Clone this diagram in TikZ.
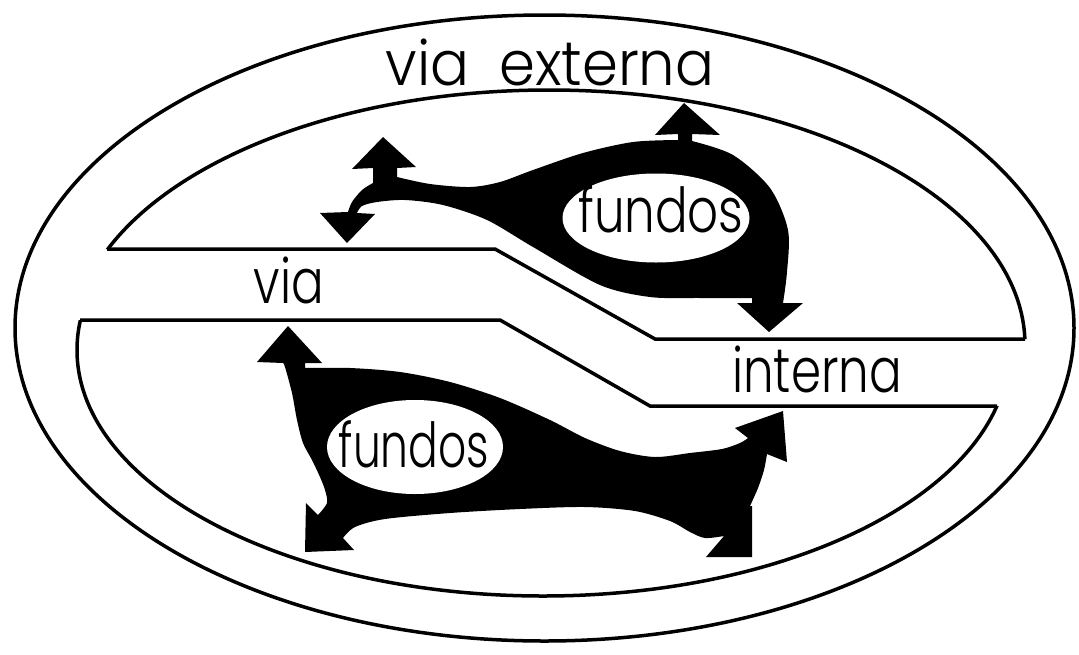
\documentclass[tikz,border=0pt]{standalone}
\usepackage{fontspec}
\newfontfamily\narrowface{Poppins}[UprightFont=* Light, FakeStretch=0.78]
\newfontfamily\wideface{Poppins}[UprightFont=* Light, FakeStretch=0.93]
\usetikzlibrary{shapes.geometric}
\begin{document}
\begin{tikzpicture}[x=1pt,y=-1pt,
  ring/.style={line width=3.5pt},
  blob/.style={fill=black},
  hole/.style={ellipse, fill=white, inner sep=0pt},
  lbl/.style={font=\narrowface\fontsize{62}{62}\selectfont, inner sep=0pt, anchor=base},
  title/.style={lbl, font=\wideface\fontsize{62}{62}\selectfont}]
\useasboundingbox (0,0) rectangle (1079,654);

% outer ring
\draw[ring] (544.5,328) ellipse[x radius=529.5, y radius=313];

% inner ring, upper part (above the band)
\begin{scope}
  \clip (0,0) -- (1079,0) -- (1079,339) -- (655,339) -- (495,249) -- (0,249) -- cycle;
  \draw[ring] (549,345) ellipse[x radius=476, y radius=255];
\end{scope}
% inner ring, lower part (below the band)
\begin{scope}
  \clip (0,654) -- (1079,654) -- (1079,406) -- (650,406) -- (500,320) -- (0,320) -- cycle;
  \draw[ring] (543,350) ellipse[x radius=466, y radius=246];
\end{scope}

% the band of the internal way
\draw[ring] (107,249) -- (495,249) -- (655,339) -- (1025,339);
\draw[ring] (80,320) -- (500,320) -- (650,406) -- (997,406);

% upper flow of funds
\fill[blob] (373,168) -- (352,169) -- (383,137) -- (416,167) -- (397,168) -- (397,177)
 -- plot[smooth] coordinates {(397,177) (430,184) (470,187) (500,182) (533,170) (583,153) (633,142) (678,140)}
 -- (678,134) -- (655,135) -- (684,103) -- (720,135) -- (692,134) -- (692,141)
 -- plot[smooth] coordinates {(692,141) (733,155) (770,188) (788,230) (787,272) (783,303)}
 -- (803,303) -- (769,332) -- (737,303) -- (752,303) -- (752,298)
 -- plot[smooth] coordinates {(752,298) (700,298) (650,297) (600,285) (533,247) (487,220) (443,205) (405,200) (377,202) (362,206) (357,213)}
 -- (375,214) -- (347,243) -- (320,213) -- (348,212)
 -- plot[smooth] coordinates {(348,212) (352,202) (362,190) (373,183)} -- cycle;

% lower flow of funds
\fill[blob] (305,363) -- (305,368)
 -- plot[smooth] coordinates {(305,368) (350,368) (400,372) (450,382) (500,398) (550,420) (585,438) (620,451) (655,457) (690,453) (722,449) (740,443) (748,438)}
 -- (735,428) -- (783,411) -- (787,462) -- (767,454)
 -- plot[smooth] coordinates {(767,454) (764,470) (758,488) (750,506)}
 -- (752,506) -- (752,557) -- (706,557) -- (724,536)
 -- plot[smooth] coordinates {(724,536) (705,538) (690,532) (670,521) (635,511) (585,507) (520,509) (450,513) (385,519) (355,527) (343,538)}
 -- (354,550) -- (305,552) -- (306,503) -- (318,515)
 -- plot[smooth] coordinates {(318,515) (327,503) (325,490) (320,477) (312,460) (303,443) (297,420) (292,393) (285,367) (283,363)}
 -- (257,362) -- (288,326) -- (322,363) -- cycle;

% white holes holding the labels
\node[hole, minimum width=187pt, minimum height=89pt] (holeA) at (656,218) {};
\node[hole, minimum width=176pt, minimum height=94pt] (holeB) at (415,447) {};

% labels
\node[title] (ext) at (550,85) {via\hspace{30pt}externa};
\node[lbl] (via) at (289,303) {via};
\node[lbl] (int) at (817,392) {interna};
\node[lbl] (fundA) at (661,232) {fundos};
\node[lbl] (fundB) at (414,467) {\scalebox{0.91}[1]{fundos}};
\end{tikzpicture}
\end{document}
